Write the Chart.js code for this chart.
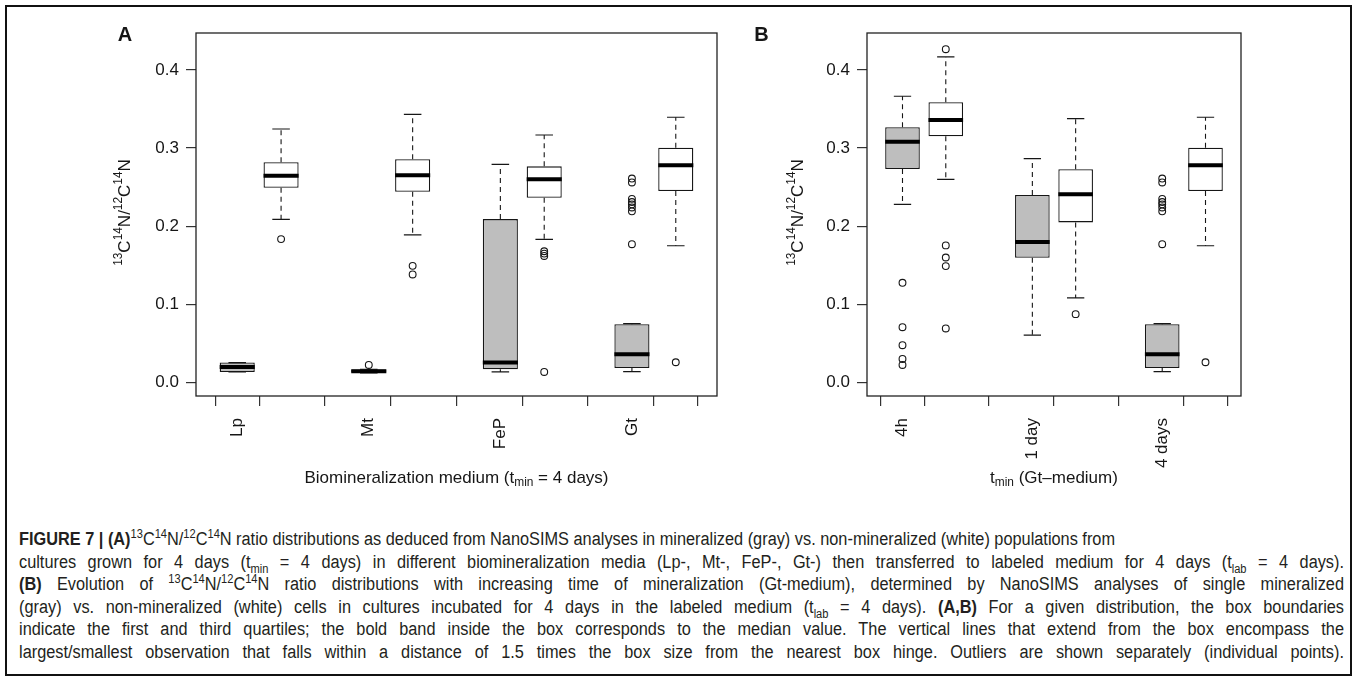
<!DOCTYPE html>
<html>
<head>
<meta charset="utf-8">
<script src="https://cdn.jsdelivr.net/npm/chart.js@4.4.1/dist/chart.umd.min.js"></script>
<style>
html,body{margin:0;padding:0;background:#fff;width:1357px;height:681px;overflow:hidden;}
#frame{position:absolute;left:5px;top:5px;width:1343px;height:667px;border:2px solid #111;}
canvas{position:absolute;top:0;}
#cA{left:0;}
#cB{left:740px;}
#cap{position:absolute;left:19px;top:528px;font-family:"Liberation Sans Narrow","Arial Narrow","Liberation Sans",Arial,sans-serif;font-size:18px;color:#231f20;line-height:22.6px;}
.ln{white-space:nowrap;height:22.6px;}
.ln span{display:inline-block;transform-origin:0 50%;}
sup,sub{font-size:0.68em;line-height:0;}
</style>
</head>
<body>
<div id="frame"></div>
<canvas id="cA" width="740" height="505"></canvas>
<canvas id="cB" width="617" height="505"></canvas>
<div id="cap"></div>
<script>
// ---------- DATA ----------
// Panel A : biomineralization medium (gray = mineralized, white = non-mineralized)
const catsA = ['Lp', 'Mt', 'FeP', 'Gt'];
const posA  = [1, 2, 4, 5, 7, 8, 10, 11];
const loA   = [0.0136, 0.2087, 0.0125, 0.1890, 0.0136, 0.1831, 0.0141, 0.1750];
const q1A   = [0.0136, 0.2493, 0.0128, 0.2441, 0.0170, 0.2364, 0.0187, 0.2450];
const medA  = [0.0200, 0.2646, 0.0145, 0.2651, 0.0256, 0.2600, 0.0362, 0.2779];
const q3A   = [0.0256, 0.2818, 0.0166, 0.2856, 0.2091, 0.2766, 0.0747, 0.3005];
const hiA   = [0.0256, 0.3244, 0.0170, 0.3432, 0.2792, 0.3167, 0.0755, 0.3394];
const outA  = [[], [0.1835], [0.0225], [0.1493, 0.1383], [], [0.1680, 0.1650, 0.1620, 0.0136],
               [0.2610, 0.2560, 0.2350, 0.2310, 0.2280, 0.2240, 0.2190, 0.1770], [0.0260]];

// Panel B : time of mineralization (Gt-medium)
const catsB = ['4h', '1 day', '4 days'];
const posB  = [1, 2, 4, 5, 7, 8];
const loB   = [0.2280, 0.2600, 0.0606, 0.1083, 0.0141, 0.1750];
const q1B   = [0.2732, 0.3151, 0.1596, 0.2049, 0.0187, 0.2450];
const medB  = [0.3082, 0.3360, 0.1797, 0.2408, 0.0362, 0.2779];
const q3B   = [0.3266, 0.3586, 0.2399, 0.2728, 0.0747, 0.3005];
const hiB   = [0.3663, 0.4166, 0.2864, 0.3376, 0.0755, 0.3394];
const outB  = [[0.1276, 0.0708, 0.0478, 0.0302, 0.0225], [0.4265, 0.1755, 0.1600, 0.1490, 0.0692], [], [0.0875],
               [0.2610, 0.2560, 0.2350, 0.2310, 0.2280, 0.2240, 0.2190, 0.1770], [0.0260]];

const yTicks = [0, 0.1, 0.2, 0.3, 0.4];
const yTitle = [{t:'13', s:'sup'}, {t:'C'}, {t:'14', s:'sup'}, {t:'N/'}, {t:'12', s:'sup'}, {t:'C'}, {t:'14', s:'sup'}, {t:'N'}];
const xTitleA = [{t:'Biomineralization medium (t'}, {t:'min', s:'sub'}, {t:' = 4 days)'}];
const xTitleB = [{t:'t'}, {t:'min', s:'sub'}, {t:' (Gt\u2013medium)'}];

const captionLines = [
  '<b>FIGURE 7 | (A)</b><sup>13</sup>C<sup>14</sup>N/<sup>12</sup>C<sup>14</sup>N ratio distributions as deduced from NanoSIMS analyses in mineralized (gray) vs. non-mineralized (white) populations from',
  'cultures grown for 4 days (t<sub>min</sub> = 4 days) in different biomineralization media (Lp-, Mt-, FeP-, Gt-) then transferred to labeled medium for 4 days (t<sub>lab</sub> = 4 days).',
  '<b>(B)</b> Evolution of <sup>13</sup>C<sup>14</sup>N/<sup>12</sup>C<sup>14</sup>N ratio distributions with increasing time of mineralization (Gt-medium), determined by NanoSIMS analyses of single mineralized',
  '(gray) vs. non-mineralized (white) cells in cultures incubated for 4 days in the labeled medium (t<sub>lab</sub> = 4 days). <b>(A,B)</b> For a given distribution, the box boundaries',
  'indicate the first and third quartiles; the bold band inside the box corresponds to the median value. The vertical lines that extend from the box encompass the',
  'largest/smallest observation that falls within a distance of 1.5 times the box size from the nearest box hinge. Outliers are shown separately (individual points).'
];

// ---------- STYLE ----------
const FONT = '"Liberation Sans", Arial, Helvetica, sans-serif';
const INK = '#161616';
const GRAY = '#bebebe';
const BOXW = 0.8, CAPW = 0.4;

function hseg(pos, vals, half) {
  const d = [];
  pos.forEach((p, i) => { d.push({x: p - half, y: vals[i]}, {x: p + half, y: vals[i]}, {x: p, y: null}); });
  return d;
}
function vseg(pos, a, b) {
  const d = [];
  pos.forEach((p, i) => { d.push({x: p, y: a[i]}, {x: p, y: b[i]}, {x: p, y: null}); });
  return d;
}
function drawRich(ctx, parts, x, y, size) {
  const sub = size * 0.7;
  let total = 0;
  parts.forEach(p => { ctx.font = (p.s ? sub : size) + 'px ' + FONT; total += ctx.measureText(p.t).width; });
  let cx = x - total / 2;
  ctx.textAlign = 'left';
  ctx.textBaseline = 'middle';
  parts.forEach(p => {
    ctx.font = (p.s ? sub : size) + 'px ' + FONT;
    const dy = p.s === 'sup' ? -size * 0.38 : (p.s === 'sub' ? size * 0.3 : 0);
    ctx.fillText(p.t, cx, y + dy);
    cx += ctx.measureText(p.t).width;
  });
}

function makeChart(id, cfg) {
  const {cats, pos, lo, q1, med, q3, hi, outs, xmin, xmax, yAxisW, padRight, letter, letterX, yTitleX, xTitle} = cfg;
  const outliers = [];
  pos.forEach((p, i) => outs[i].forEach(v => outliers.push({x: p, y: v})));
  const deco = {
    id: 'deco' + id,
    afterDraw(chart) {
      const ctx = chart.ctx, a = chart.chartArea;
      ctx.save();
      ctx.strokeStyle = '#222';
      ctx.lineWidth = 1.3;
      ctx.strokeRect(a.left, a.top, a.right - a.left, a.bottom - a.top);
      ctx.fillStyle = INK;
      ctx.font = 'bold 20px ' + FONT;
      ctx.textAlign = 'center';
      ctx.textBaseline = 'middle';
      ctx.fillText(letter, letterX, 35);
      drawRich(ctx, xTitle, (a.left + a.right) / 2, 478, 17);
      ctx.translate(yTitleX, (a.top + a.bottom) / 2 - 2);
      ctx.rotate(-Math.PI / 2);
      drawRich(ctx, yTitle, 0, 0, 17);
      ctx.restore();
    }
  };
  return new Chart(document.getElementById(id), {
    type: 'bar',
    data: {
      datasets: [
        {type: 'line', data: hseg(pos, med, BOXW / 2), borderColor: '#000', borderWidth: 4, borderCapStyle: 'butt', pointRadius: 0, spanGaps: false, fill: false},
        {type: 'line', data: hseg(pos, hi, CAPW / 2).concat(hseg(pos, lo, CAPW / 2)), borderColor: INK, borderWidth: 1.2, pointRadius: 0, spanGaps: false, fill: false},
        {type: 'line', data: vseg(pos, q3, hi).concat(vseg(pos, q1, lo)), borderColor: INK, borderWidth: 1.1, borderDash: [5, 4], pointRadius: 0, spanGaps: false, fill: false},
        {type: 'scatter', data: outliers, pointStyle: 'circle', pointRadius: 3.4, pointBorderWidth: 1.1, pointBorderColor: INK, pointBackgroundColor: 'rgba(0,0,0,0)', showLine: false},
        {type: 'bar', data: pos.map((p, i) => ({x: p, y: [q1[i], q3[i]]})),
         backgroundColor: pos.map((p, i) => i % 2 === 0 ? GRAY : '#ffffff'),
         borderColor: INK, borderWidth: 1.3, borderSkipped: false, barPercentage: 1, categoryPercentage: BOXW}
      ]
    },
    options: {
      responsive: false, animation: false, devicePixelRatio: 1, events: [],
      layout: {padding: {left: 0, right: padRight, top: 33, bottom: 0}},
      plugins: {legend: {display: false}, tooltip: {enabled: false}, title: {display: false}},
      scales: {
        x: {
          type: 'linear', min: xmin, max: xmax, offset: false,
          afterBuildTicks: s => { s.ticks = pos.map(v => ({value: v})); },
          afterFit: s => { s.height = 109; s.paddingLeft = 0; s.paddingRight = 0; },
          ticks: {autoSkip: false, minRotation: 90, maxRotation: 90, padding: 12, color: INK,
                  font: {family: FONT, size: 17}, callback: (v, i) => (i % 2 === 0 ? cats[i / 2] : '')},
          grid: {drawOnChartArea: false, drawTicks: true, tickLength: 10, color: '#333', lineWidth: 1.2},
          border: {display: false}
        },
        y: {
          type: 'linear', min: -0.0172, max: 0.4472,
          afterBuildTicks: s => { s.ticks = yTicks.map(v => ({value: v})); },
          afterFit: s => { s.width = yAxisW; s.paddingTop = 0; s.paddingBottom = 0; },
          ticks: {padding: 7, color: INK, font: {family: FONT, size: 17}, callback: v => Number(v).toFixed(1)},
          grid: {drawOnChartArea: false, drawTicks: true, tickLength: 10, color: '#333', lineWidth: 1.2},
          border: {display: false}
        }
      }
    },
    plugins: [deco]
  });
}

makeChart('cA', {cats: catsA, pos: posA, lo: loA, q1: q1A, med: medA, q3: q3A, hi: hiA, outs: outA,
  xmin: 0.06, xmax: 11.94, yAxisW: 196, padRight: 23, letter: 'A', letterX: 125, yTitleX: 125, xTitle: xTitleA});
makeChart('cB', {cats: catsB, pos: posB, lo: loB, q1: q1B, med: medB, q3: q3B, hi: hiB, outs: outB,
  xmin: 0.18, xmax: 8.82, yAxisW: 127, padRight: 116, letter: 'B', letterX: 21.5, yTitleX: 58, xTitle: xTitleB});

// ---------- CAPTION ----------
const cap = document.getElementById('cap');
const targets = [1096, 1325, 1325, 1325, 1325, 1325];
const spans = [];
captionLines.forEach((html) => {
  const d = document.createElement('div');
  d.className = 'ln';
  const s = document.createElement('span');
  s.innerHTML = html;
  d.appendChild(s);
  cap.appendChild(d);
  spans.push(s);
});
// condensed look: one horizontal scale for all lines, set so that the first (unjustified) line ends where it does
const natural = spans.map(s => s.getBoundingClientRect().width);
const sx = Math.min(1, targets[0] / natural[0]);
spans.forEach((s, i) => {
  if (i > 0) {
    const n = (s.textContent.match(/ /g) || []).length;
    s.style.wordSpacing = ((targets[i] / sx - natural[i]) / n) + 'px';
  }
  s.style.transform = 'scaleX(' + sx + ')';
});
</script>
</body>
</html>
